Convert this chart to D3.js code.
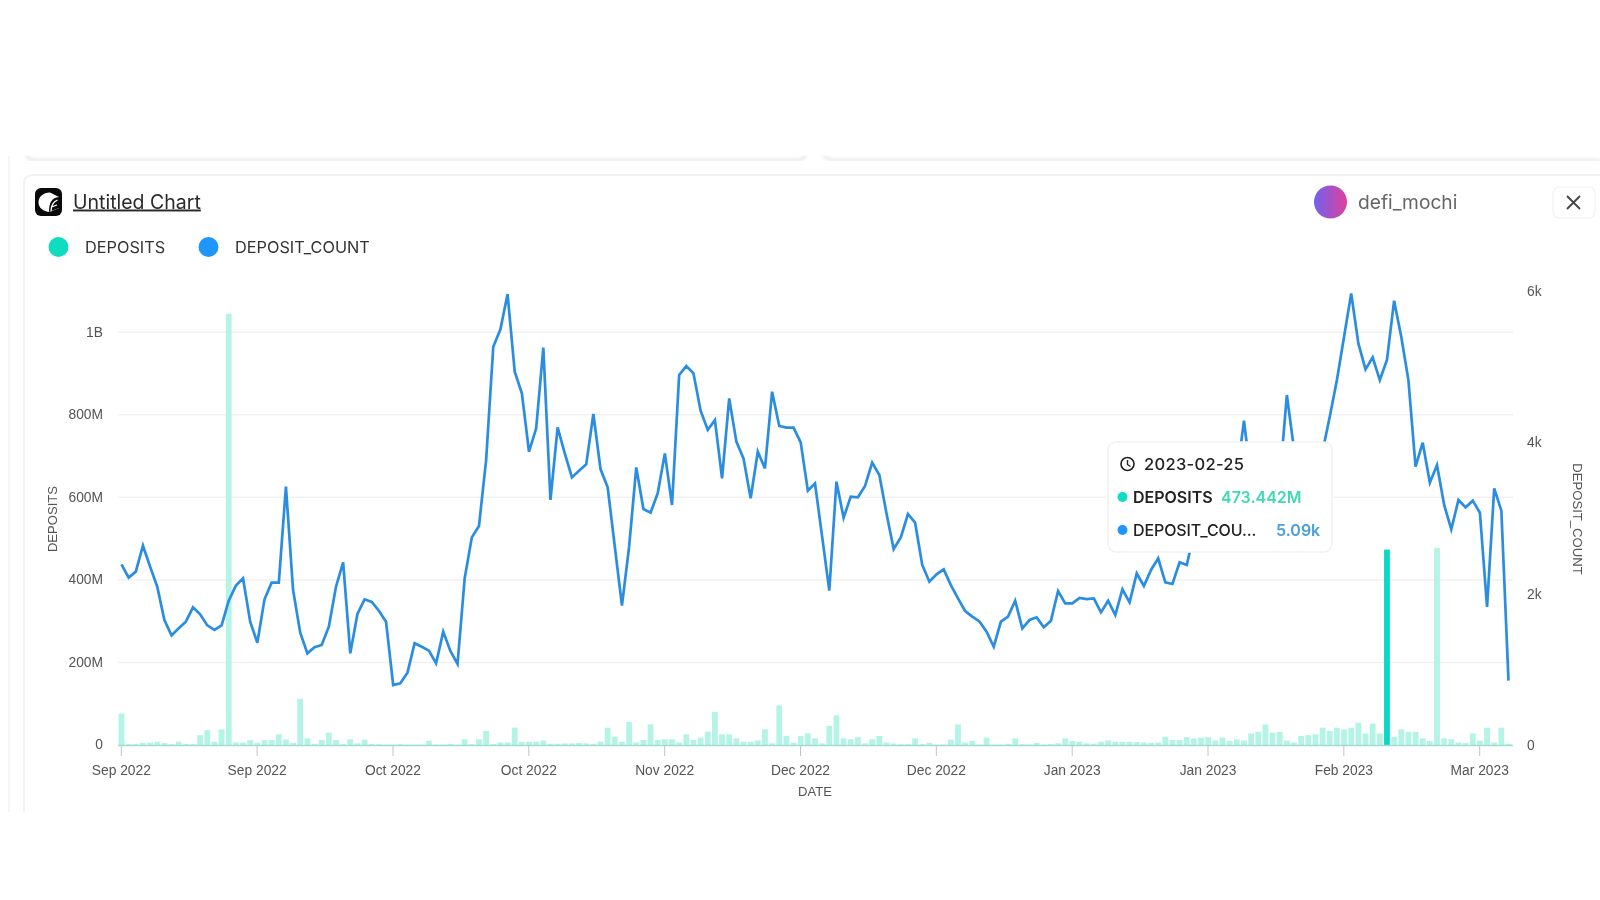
<!DOCTYPE html>
<html><head><meta charset="utf-8">
<script src="https://cdn.jsdelivr.net/npm/d3@7/dist/d3.min.js"></script>
<style>
html,body{margin:0;padding:0;background:#fff}
svg{display:block;filter:blur(0.4px);font-family:Inter,"Noto Sans",sans-serif}
</style></head><body><svg id="c" width="1600" height="900"></svg>
<script>
const startDate = "2022-09-01";
const endDate = "2023-03-14";
const highlightDate = "2023-02-25";
const seriesNames = ["DEPOSITS","DEPOSIT_COUNT"];
const seriesColors = ["#0fdcc0","#1e96fc"];
const xTickDates = ["2022-09-01","2022-09-20","2022-10-09","2022-10-28","2022-11-16","2022-12-05","2022-12-24","2023-01-12","2023-01-31","2023-02-19","2023-03-10"];
const leftTicks = [0,200,400,600,800,1000];
const leftTickLabels = ["0","200M","400M","600M","800M","1B"];
const rightTicks = [0,2000,4000,6000];
const rightTickLabels = ["0","2k","4k","6k"];
// Deposits in millions
const deposits = [
76,2,2,5,6,8,5,2,8,3,
2,24,36,8,38,1045,6,6,12,5,
12,12,26,14,5,112,16,3,12,30,
12,3,14,4,13,3,2,1,1,2,
1,1,1,10,1,1,3,1,14,2,
14,34,2,6,6,42,8,8,8,11,
3,3,4,4,5,4,3,8,42,20,
8,56,6,12,50,12,14,14,6,26,
12,18,32,80,26,26,16,8,8,11,
38,4,96,22,5,22,28,16,4,46,
72,16,14,19,4,14,22,6,4,2,
2,16,2,5,1,1,13,50,6,10,
1,18,1,1,3,16,2,1,5,1,
2,4,16,10,8,4,3,8,11,8,
8,8,7,6,5,6,20,12,12,19,
16,18,19,11,18,10,14,11,28,32,
50,30,32,11,6,22,24,26,42,34,
42,38,42,54,28,52,28,473.442,20,38,
32,32,16,10,477,16,14,6,5,28,
11,42,6,42,3];
const depositCount = [
2388,2211,2291,2634,2357,2092,1652,1449,1542,1630,
1819,1727,1581,1520,1581,1907,2106,2203,1630,1352,
1925,2145,2145,3414,2048,1484,1211,1291,1322,1564,
2092,2414,1211,1731,1925,1890,1775,1630,793,815,
956,1344,1299,1247,1079,1498,1242,1070,2203,2744,
2894,3766,5264,5493,5960,4934,4647,3876,4185,5251,
3238,4198,3854,3537,3625,3709,4374,3647,3405,2621,
1841,2621,3669,3119,3070,3326,3854,3172,4890,5008,
4912,4418,4163,4295,3524,4581,4009,3788,3260,3876,
3656,4669,4216,4194,4194,4000,3361,3458,2753,2040,
3480,3004,3282,3273,3423,3731,3568,3061,2590,2744,
3053,2938,2379,2158,2255,2321,2114,1938,1771,1696,
1634,1498,1299,1630,1696,1907,1542,1652,1687,1555,
1643,2035,1872,1872,1943,1929,1938,1753,1907,1718,
2057,1885,2269,2101,2313,2467,2150,2128,2414,2379,
2797,3000,3150,3300,3450,3500,3555,4286,3502,3550,
3600,3500,3500,4625,3907,3700,3600,3700,3885,4339,
4823,5396,5969,5308,4964,5123,4823,5088,5872,5396,
4823,3678,3995,3467,3700,3172,2850,3238,3141,3229,
3070,1824,3392,3097,851];

const parse = d3.utcParse("%Y-%m-%d");
const fmt = d3.utcFormat("%Y-%m-%d");
const dates = d3.utcDay.range(parse(startDate), d3.utcDay.offset(parse(endDate),1));

const svg = d3.select("#c");
const tickFont = '"Liberation Sans",Arial,sans-serif';
const tickSize = 13.8, tickColor = "#555";

// page frame
const defs = svg.append("defs");
const sh = defs.append("filter").attr("id","sh").attr("x","-5%").attr("y","-5%").attr("width","110%").attr("height","110%");
sh.append("feGaussianBlur").attr("stdDeviation",1.6);
const grad = defs.append("linearGradient").attr("id","av");
grad.append("stop").attr("offset","0%").attr("stop-color","#6f62ee");
grad.append("stop").attr("offset","100%").attr("stop-color","#e0409c");

svg.append("line").attr("x1",9).attr("x2",9).attr("y1",156).attr("y2",812).attr("stroke","#f3f3f3").attr("stroke-width",1.5);
svg.append("path").attr("d","M26 156 Q30 160 36 160 H796 Q802 160 806 156").attr("fill","none").attr("stroke","#e6e6e6").attr("stroke-width",2.5).attr("filter","url(#sh)");
svg.append("path").attr("d","M824 156 Q828 160 834 160 H1600").attr("fill","none").attr("stroke","#e6e6e6").attr("stroke-width",2.5).attr("filter","url(#sh)");
svg.append("path").attr("d","M24 812 V184 Q24 175 34 175 H1600").attr("fill","none").attr("stroke","#f2f2f2").attr("stroke-width",2);

// title row
const logo = svg.append("g");
logo.append("rect").attr("x",35).attr("y",188).attr("width",27).attr("height",28).attr("rx",6).attr("fill","#0a0a0a");
logo.append("path").attr("d","M50 192.5 C43 192.5 38.5 197 38.5 202 C38.5 208 43 211.5 50 212 L59 208 V197 Z").attr("fill","#fff");
logo.append("path").attr("d","M59 197 C52 198 49 202 49 212 L59 208 Z").attr("fill","#0a0a0a");
logo.append("path").attr("d","M51 211 C51 205 53 202 57.5 200 M51.5 207 L57 205").attr("fill","none").attr("stroke","#fff").attr("stroke-width",1.3);
svg.append("text").attr("x",73).attr("y",208.5).attr("font-size",19.5).attr("fill","#2a2a2a").attr("text-decoration","underline").text("Untitled Chart");

svg.append("circle").attr("cx",1330.5).attr("cy",202).attr("r",16.5).attr("fill","url(#av)");
svg.append("text").attr("x",1358).attr("y",208.5).attr("font-size",19.2).attr("fill","#666").text("defi_mochi");
svg.append("rect").attr("x",1553).attr("y",187).attr("width",42).attr("height",31).attr("rx",6).attr("fill","#fff").attr("stroke","#f5f5f5").attr("stroke-width",1.5);
svg.append("path").attr("d","M1567 196 L1580 209 M1580 196 L1567 209").attr("stroke","#444").attr("stroke-width",1.8).attr("fill","none");

// legend
const legendX = [[58.5,85],[208.5,235]];
seriesNames.forEach((n,i)=>{
  svg.append("circle").attr("cx",legendX[i][0]).attr("cy",247).attr("r",10).attr("fill",seriesColors[i]);
  svg.append("text").attr("x",legendX[i][1]).attr("y",252.5).attr("font-size",16.3).attr("fill","#333").text(n);
});

// scales
const markOffset = 0.7;
const x = d3.scaleUtc().domain([parse(startDate),parse(endDate)]).range([120.8,1507.8]);
const yL = d3.scaleLinear().domain([0,1100]).range([745,291]);
const yR = d3.scaleLinear().domain([0,6000]).range([745,291]);
const gridX = [118,1513];

// grid
svg.append("g").selectAll("line").data(leftTicks.slice(1)).join("line")
  .attr("x1",gridX[0]).attr("x2",gridX[1]).attr("y1",d=>yL(d)).attr("y2",d=>yL(d))
  .attr("stroke","#f1f1f1").attr("stroke-width",1.5);

// bars
const barW = 5.8;
svg.append("g").selectAll("rect").data(dates).join("rect")
  .attr("x",d=>x(d)+markOffset-barW/2)
  .attr("width",barW)
  .attr("y",(d,i)=>yL(deposits[i]))
  .attr("height",(d,i)=>yL(0)-yL(deposits[i]))
  .attr("fill",d=>fmt(d)===highlightDate?"#0ad8c6":"#b4f4e6");

// axes
const xAxis = d3.axisBottom(x).tickValues(xTickDates.map(parse)).tickFormat(d3.utcFormat("%b %Y")).tickSize(11).tickPadding(9);
const gx = svg.append("g").attr("transform","translate(0,745)").call(xAxis);
gx.select(".domain").remove();
gx.selectAll("line").attr("stroke","#c4c4c4");
gx.selectAll("text").attr("font-size",tickSize).attr("font-family",tickFont).attr("fill",tickColor);
svg.append("line").attr("x1",gridX[0]).attr("x2",gridX[1]).attr("y1",745.5).attr("y2",745.5).attr("stroke","#9fdcd2").attr("stroke-width",1.5);

const gl = svg.append("g").attr("transform","translate(103,-0.5)")
  .call(d3.axisLeft(yL).tickValues(leftTicks).tickFormat((d,i)=>leftTickLabels[i]).tickSize(0).tickPadding(0));
gl.select(".domain").remove();
gl.selectAll("text").attr("font-size",tickSize).attr("font-family",tickFont).attr("fill",tickColor);

const gr = svg.append("g").attr("transform","translate(1527,0)")
  .call(d3.axisRight(yR).tickValues(rightTicks).tickFormat((d,i)=>rightTickLabels[i]).tickSize(0).tickPadding(0));
gr.select(".domain").remove();
gr.selectAll("text").attr("font-size",tickSize).attr("font-family",tickFont).attr("fill",tickColor);

// line
svg.append("path").datum(dates)
  .attr("fill","none").attr("stroke","#2a8de0").attr("stroke-width",2.7).attr("stroke-linejoin","miter")
  .attr("d",d3.line().x(d=>x(d)+markOffset).y((d,i)=>yR(depositCount[i])));

// axis titles
const titleAttrs = s=>s.attr("font-size",13.1).attr("font-family",tickFont).attr("fill",tickColor);
svg.append("text").attr("transform","translate(57,519) rotate(-90)").attr("text-anchor","middle").call(titleAttrs).text("DEPOSITS");
svg.append("text").attr("transform","translate(1573,519) rotate(90)").attr("text-anchor","middle").call(titleAttrs).text("DEPOSIT_COUNT");
svg.append("text").attr("x",815).attr("y",796).attr("text-anchor","middle").call(titleAttrs).text("DATE");

// tooltip
const tip = svg.append("g");
tip.append("rect").attr("x",1108).attr("y",442).attr("width",224).attr("height",110).attr("rx",8).attr("fill","#fff").attr("stroke","#f2f2f2").attr("stroke-width",1.5);
tip.append("circle").attr("cx",1127.5).attr("cy",464).attr("r",6.5).attr("fill","none").attr("stroke","#222").attr("stroke-width",1.6);
tip.append("path").attr("d","M1127.5 460 V464.5 L1130.5 466.5").attr("fill","none").attr("stroke","#222").attr("stroke-width",1.4);
tip.append("text").attr("x",1144).attr("y",469.5).attr("font-size",16.5).attr("font-weight",500).attr("letter-spacing",0.3).attr("fill","#222").text(highlightDate);
const idx = dates.findIndex(d=>fmt(d)===highlightDate);
tip.append("circle").attr("cx",1122.5).attr("cy",497).attr("r",5).attr("fill",seriesColors[0]);
tip.append("text").attr("x",1133).attr("y",502.5).attr("font-size",16).attr("font-weight",600).attr("fill","#222").text(seriesNames[0]);
tip.append("text").attr("x",1221).attr("y",502.5).attr("font-size",16).attr("font-weight",600).attr("fill","#3fd9b5").text(d3.format(".3f")(deposits[idx])+"M");
tip.append("circle").attr("cx",1122.5).attr("cy",530).attr("r",5).attr("fill",seriesColors[1]);
tip.append("text").attr("x",1133).attr("y",535.5).attr("font-size",16).attr("font-weight",500).attr("letter-spacing",-0.1).attr("fill","#222").text("DEPOSIT_COU...");
tip.append("text").attr("x",1276).attr("y",535.5).attr("font-size",16).attr("font-weight",600).attr("fill","#4a9fe0").text(d3.format(".2f")(depositCount[idx]/1000)+"k");
</script></body></html>
